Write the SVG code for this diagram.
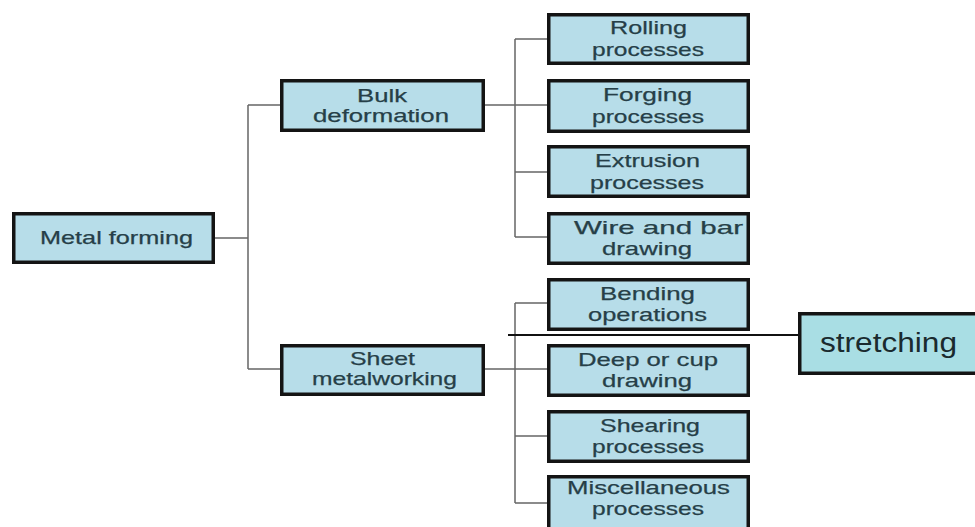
<svg xmlns="http://www.w3.org/2000/svg" width="975" height="527" viewBox="0 0 975 527">
<style>
.box{fill:#b7dde9;stroke:#141414;stroke-width:3.5}
.box2{fill:#a9dee4;stroke:#141414;stroke-width:3.5}
.t{font-family:"Liberation Sans",Arial,sans-serif;font-size:19px;fill:#263f48;stroke:#263f48;stroke-width:0.25}
.t2{font-family:"Liberation Sans",Arial,sans-serif;font-size:27px;fill:#1a2a2e}
.c{stroke:#666;stroke-width:1.5;fill:none}
.k{stroke:#111;stroke-width:2;fill:none}
</style>
<rect width="975" height="527" fill="#ffffff"/>
<g id="connectors">
<path class="c" d="M215,238H248M248,105V369M248,105H280M248,369H280"/>
<path class="c" d="M485,105H547M515,39V237M515,39H547M515,172H547M515,237H547"/>
<path class="c" d="M485,369H547M515,303V503M515,303H547M515,436H547M515,503H547"/>
<path class="k" d="M508,335H798"/>
</g>
<g id="metal-forming">
<rect class="box" x="13.75" y="213.75" width="199.5" height="48.5"/>
<text class="t" x="40" y="244" textLength="153" lengthAdjust="spacingAndGlyphs" font-size="20">Metal forming</text>
</g>
<g id="bulk-deformation">
<rect class="box" x="281.75" y="80.75" width="201.5" height="49.5"/>
<text class="t" x="357" y="102" textLength="50" lengthAdjust="spacingAndGlyphs">Bulk</text>
<text class="t" x="313" y="122" textLength="136" lengthAdjust="spacingAndGlyphs">deformation</text>
</g>
<g id="sheet-metalworking">
<rect class="box" x="281.75" y="345.75" width="201.5" height="48.5"/>
<text class="t" x="350" y="365" textLength="65" lengthAdjust="spacingAndGlyphs">Sheet</text>
<text class="t" x="312" y="385" textLength="145" lengthAdjust="spacingAndGlyphs">metalworking</text>
</g>
<g id="rolling">
<rect class="box" x="548.75" y="14.75" width="199.5" height="48.5"/>
<text class="t" x="610" y="34" textLength="77" lengthAdjust="spacingAndGlyphs">Rolling</text>
<text class="t" x="592" y="56" textLength="112" lengthAdjust="spacingAndGlyphs">processes</text>
</g>
<g id="forging">
<rect class="box" x="548.75" y="80.75" width="199.5" height="50.5"/>
<text class="t" x="603" y="101" textLength="89" lengthAdjust="spacingAndGlyphs">Forging</text>
<text class="t" x="592" y="123" textLength="112" lengthAdjust="spacingAndGlyphs">processes</text>
</g>
<g id="extrusion">
<rect class="box" x="548.75" y="146.75" width="199.5" height="49.5"/>
<text class="t" x="595" y="167" textLength="105" lengthAdjust="spacingAndGlyphs">Extrusion</text>
<text class="t" x="590" y="189" textLength="114" lengthAdjust="spacingAndGlyphs">processes</text>
</g>
<g id="wire-and-bar">
<rect class="box" x="548.75" y="213.75" width="199.5" height="49.5"/>
<text class="t" x="574" y="234" textLength="169" lengthAdjust="spacingAndGlyphs">Wire and bar</text>
<text class="t" x="602" y="255" textLength="90" lengthAdjust="spacingAndGlyphs">drawing</text>
</g>
<g id="bending">
<rect class="box" x="548.75" y="279.75" width="199.5" height="49.5"/>
<text class="t" x="600" y="300" textLength="95" lengthAdjust="spacingAndGlyphs">Bending</text>
<text class="t" x="588" y="321" textLength="119" lengthAdjust="spacingAndGlyphs">operations</text>
</g>
<g id="deep-drawing">
<rect class="box" x="548.75" y="345.75" width="199.5" height="49.5"/>
<text class="t" x="578" y="366" textLength="140" lengthAdjust="spacingAndGlyphs">Deep or cup</text>
<text class="t" x="602" y="387" textLength="90" lengthAdjust="spacingAndGlyphs">drawing</text>
</g>
<g id="shearing">
<rect class="box" x="548.75" y="411.75" width="199.5" height="49.5"/>
<text class="t" x="600" y="432" textLength="100" lengthAdjust="spacingAndGlyphs">Shearing</text>
<text class="t" x="592" y="453" textLength="112" lengthAdjust="spacingAndGlyphs">processes</text>
</g>
<g id="miscellaneous">
<rect class="box" x="548.75" y="476.75" width="199.5" height="55"/>
<text class="t" x="567" y="494" textLength="163" lengthAdjust="spacingAndGlyphs">Miscellaneous</text>
<text class="t" x="592" y="515" textLength="112" lengthAdjust="spacingAndGlyphs">processes</text>
</g>
<g id="stretching">
<rect class="box2" x="799.75" y="313.75" width="185" height="59.5"/>
<text class="t2" x="820" y="352" textLength="137" lengthAdjust="spacingAndGlyphs">stretching</text>
</g>
</svg>
